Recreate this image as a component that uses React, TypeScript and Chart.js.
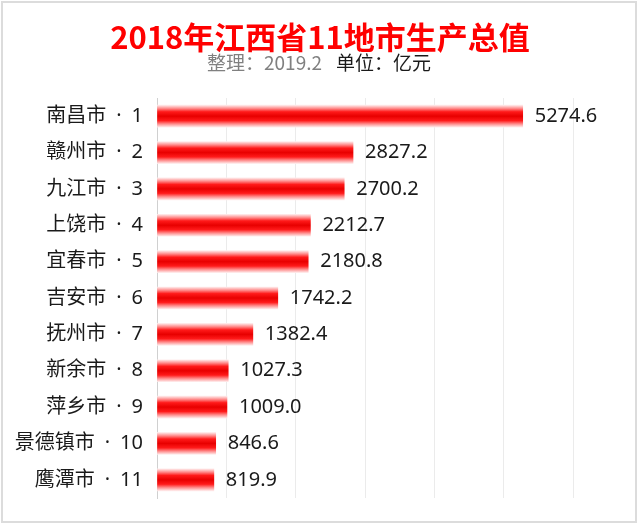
import React, { useEffect, useRef } from "react";
import { Chart, registerables } from "chart.js";

Chart.register(...registerables);

const cities = ["南昌市", "赣州市", "九江市", "上饶市", "宜春市", "吉安市", "抚州市", "新余市", "萍乡市", "景德镇市", "鹰潭市"];
const ranks = [1, 2, 3, 4, 5, 6, 7, 8, 9, 10, 11];
const gdp = [5274.6, 2827.2, 2700.2, 2212.7, 2180.8, 1742.2, 1382.4, 1027.3, 1009.0, 846.6, 819.9];
const valueLabels = ["5274.6", "2827.2", "2700.2", "2212.7", "2180.8", "1742.2", "1382.4", "1027.3", "1009.0", "846.6", "819.9"];
const titleText = "2018年江西省11地市生产总值";
const subtitleLeft = "整理：2019.2";
const subtitleRight = "单位：亿元";
const xMin = 0;
const xMax = 6000;
const xStep = 1000;

const FONT = "'Noto Sans', 'Noto Sans CJK SC', sans-serif";
const CJK = "'Noto Sans CJK SC', sans-serif";
const BAR_H = 22;

const textPlugin = {
  id: "textPlugin",
  afterDatasetsDraw(chart: any) {
    const ctx = chart.ctx;
    const meta = chart.getDatasetMeta(0);
    ctx.save();
    ctx.font = `20px ${FONT}`;
    ctx.fillStyle = "#1a1a1a";
    ctx.textBaseline = "middle";
    ctx.textAlign = "left";
    meta.data.forEach((bar: any, i: number) => {
      ctx.fillText(valueLabels[i], bar.x + 12, bar.y);
    });

    ctx.font = `bold 31px ${CJK}`;
    ctx.fillStyle = "#ff0000";
    ctx.textAlign = "center";
    ctx.fillText(titleText, 320, 37);

    ctx.font = `19px ${CJK}`;
    ctx.textAlign = "left";
    const w1 = ctx.measureText(subtitleLeft).width;
    const w2 = ctx.measureText(subtitleRight).width;
    const gap = 14;
    const x = 319 - (w1 + gap + w2) / 2;
    ctx.fillStyle = "#808080";
    ctx.fillText(subtitleLeft, x, 63);
    ctx.fillStyle = "#1a1a1a";
    ctx.fillText(subtitleRight, x + w1 + gap, 63);
    ctx.restore();
  },
};

export default function App() {
  const ref = useRef<HTMLCanvasElement | null>(null);

  useEffect(() => {
    if (!ref.current) return;
    const chart = new Chart(ref.current, {
      type: "bar",
      data: {
        labels: cities.map((c, i) => `${c}\u2002·\u2002${ranks[i]}`),
        datasets: [
          {
            data: gdp,
            barThickness: BAR_H,
            borderWidth: 0,
            backgroundColor: (c: any) => {
              const chart = c.chart;
              const y = chart.scales && chart.scales.y;
              if (!y || c.dataIndex == null) return "#ff0000";
              const cy = y.getPixelForValue(c.dataIndex);
              if (!isFinite(cy)) return "#ff0000";
              const h = BAR_H / 2;
              const g = chart.ctx.createLinearGradient(0, cy - h, 0, cy + h);
              g.addColorStop(0, "rgba(255,235,235,1)");
              g.addColorStop(0.15, "#ff8a8a");
              g.addColorStop(0.3, "#ff1a1a");
              g.addColorStop(0.5, "#e80000");
              g.addColorStop(0.7, "#ff1a1a");
              g.addColorStop(0.85, "#ff8a8a");
              g.addColorStop(1, "rgba(255,235,235,1)");
              return g;
            },
          },
        ],
      },
      options: {
        indexAxis: "y",
        responsive: false,
        animation: false,
        layout: { padding: { left: 0, right: 67, top: 98, bottom: 21 } },
        plugins: {
          legend: { display: false },
          tooltip: { enabled: false },
          title: { display: false },
        },
        scales: {
          x: {
            min: xMin,
            max: xMax,
            ticks: { display: false, stepSize: xStep },
            grid: { color: "#ebebeb", lineWidth: 1, drawTicks: false },
            border: { display: false },
            afterFit: (s: any) => {
              s.height = 0;
            },
          },
          y: {
            ticks: {
              color: "#1a1a1a",
              font: { size: 20, family: FONT },
              padding: 14,
            },
            grid: { display: false, drawTicks: false },
            border: { display: true, color: "#d0d0d0", width: 1 },
            afterFit: (s: any) => {
              s.width = 157;
            },
          },
        },
      },
      plugins: [textPlugin],
    } as any);
    return () => chart.destroy();
  }, []);

  return (
    <div style={{ position: "absolute", left: 0, top: 0, width: 640, height: 524, background: "#fff" }}>
      <canvas ref={ref} width={640} height={524} style={{ display: "block" }} />
      <div
        style={{
          position: "absolute",
          left: 1,
          top: 1,
          width: 636,
          height: 522,
          boxSizing: "border-box",
          border: "2px solid #dcdcdc",
          pointerEvents: "none",
        }}
      />
    </div>
  );
}
